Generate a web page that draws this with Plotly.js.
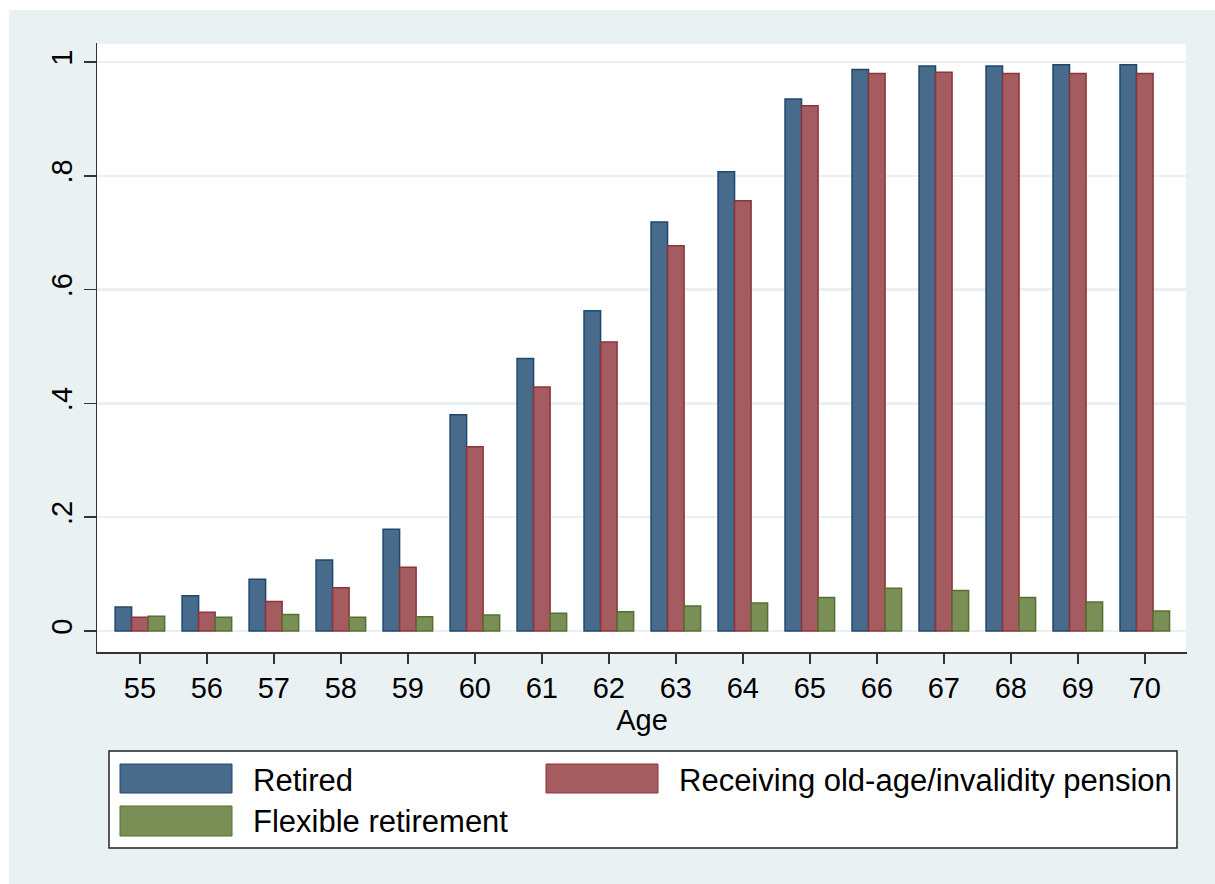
<!DOCTYPE html>
<html>
<head>
<meta charset="utf-8">
<script src="https://cdn.plot.ly/plotly-3.0.1.min.js"></script>
<style>
html,body{margin:0;padding:0;background:#ffffff;width:1215px;height:884px;overflow:hidden;}
#chart{position:absolute;left:9px;top:10px;width:1206px;height:874px;}
</style>
</head>
<body>
<div id="chart"></div>
<script>
// ---- data ----
var ages = ["55","56","57","58","59","60","61","62","63","64","65","66","67","68","69","70"];
var retired  = [0.042,0.062,0.091,0.125,0.179,0.380,0.479,0.563,0.719,0.807,0.935,0.987,0.993,0.993,0.995,0.995];
var pension  = [0.024,0.033,0.052,0.076,0.112,0.324,0.429,0.508,0.677,0.756,0.923,0.980,0.982,0.980,0.980,0.980];
var flexible = [0.026,0.024,0.029,0.024,0.025,0.028,0.031,0.034,0.044,0.049,0.059,0.075,0.071,0.059,0.051,0.035];
var seriesNames = ["Retired","Receiving old-age/invalidity pension","Flexible retirement"];
var yTickVals = [0,0.2,0.4,0.6,0.8,1];
var yTickText = ["0",".2",".4",".6",".8","1"];
var xTitle = "Age";

// ---- styles ----
var fills = ["rgb(72,106,139)","rgb(165,92,96)","rgb(122,143,85)"];
var edges = ["rgb(31,72,110)","rgb(140,52,58)","rgb(85,112,50)"];
var FONT = "Liberation Sans, Arial, sans-serif";
var BG = "#eaf1f3";

var series = [retired, pension, flexible];
var traces = series.map(function(v,i){
  return {type:"bar", x:ages, y:v, name:seriesNames[i],
    marker:{color:fills[i], line:{color:edges[i], width:1.5}},
    hoverinfo:"x+y", showlegend:false};
});

// page-pixel -> paper coordinate helpers (plot area: x 97..1187, y 43..652 on page)
var PX0=97, PX1=1187, PY0=43, PY1=652;
function px(x){return (x-PX0)/(PX1-PX0);}
function py(y){return (PY1-y)/(PY1-PY0);}

var shapes = [
  {type:"line", xref:"paper", yref:"paper", x0:0, x1:1, y0:1, y1:1, line:{color:BG, width:2}},
  {type:"line", xref:"paper", yref:"paper", x0:1, x1:1, y0:0, y1:1, line:{color:BG, width:2}},
  {type:"rect", xref:"paper", yref:"paper", x0:px(109), x1:px(1177), y0:py(751), y1:py(848),
    fillcolor:"#ffffff", line:{color:"#222222", width:1.5}, layer:"above"}
];
var legendPos = [
  {sx0:120, sx1:232, sy0:764, sy1:793, tx:251, ty:780},
  {sx0:546, sx1:658, sy0:764, sy1:793, tx:677, ty:780},
  {sx0:120, sx1:232, sy0:806, sy1:836, tx:251, ty:822}
];
var annotations = [];
legendPos.forEach(function(p,i){
  shapes.push({type:"rect", xref:"paper", yref:"paper", x0:px(p.sx0), x1:px(p.sx1), y0:py(p.sy0), y1:py(p.sy1),
    fillcolor:fills[i], line:{color:edges[i], width:1}, layer:"above"});
  annotations.push({xref:"paper", yref:"paper", x:px(p.tx), y:py(p.ty), xanchor:"left", yanchor:"middle",
    text:seriesNames[i], showarrow:false, font:{family:FONT, size:31, color:"#000000"}});
});

var layout = {
  width:1206, height:874,
  margin:{l:88, r:28, t:33, b:232},
  paper_bgcolor:BG, plot_bgcolor:"#ffffff",
  barmode:"group", bargap:0.26, bargroupgap:0,
  font:{family:FONT, size:29, color:"#000000"},
  xaxis:{type:"category", range:[-0.64,15.63], showgrid:false, zeroline:false,
    showline:true, linecolor:"#333333", linewidth:1.5,
    ticks:"outside", ticklen:10, tickwidth:1.5, tickcolor:"#333333",
    tickfont:{family:FONT, size:29, color:"#000000"},
    title:{text:xTitle, font:{family:FONT, size:29, color:"#000000"}, standoff:0}},
  yaxis:{range:[-0.0369,1.0334], tickvals:yTickVals, ticktext:yTickText, tickangle:-90,
    showgrid:true, gridcolor:BG, gridwidth:2.5, zeroline:false,
    showline:true, linecolor:"#333333", linewidth:1.5,
    ticks:"outside", ticklen:12, tickwidth:1.5, tickcolor:"#333333",
    tickfont:{family:FONT, size:29, color:"#000000"}},
  shapes:shapes, annotations:annotations, showlegend:false
};

Plotly.newPlot("chart", traces, layout, {displayModeBar:false, staticPlot:true});
</script>
</body>
</html>
